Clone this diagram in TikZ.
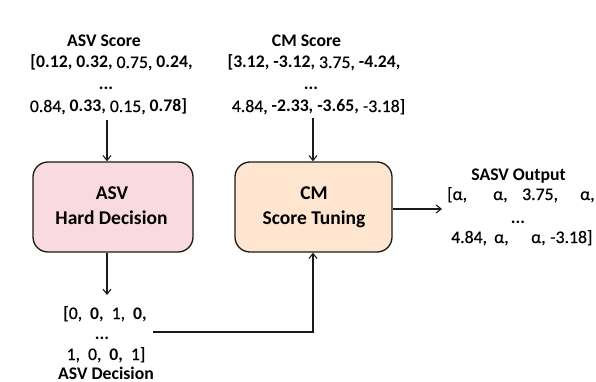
\documentclass[tikz,border=0pt]{standalone}
\usepackage{fontspec}
\setmainfont{Carlito}
\newfontfamily\medfont{Carlito}[BoldFont=Carlito, BoldFeatures={FakeBold=0.5}]
\newcommand{\md}[1]{{\medfont\bfseries #1}}
\usetikzlibrary{arrows.meta}
\definecolor{asvfill}{HTML}{F9DAE0}
\definecolor{cmfill}{HTML}{FDE5CF}
\definecolor{edge}{HTML}{1A1A1A}
\begin{document}
\begin{tikzpicture}[x=1pt,y=-1pt,
  txt/.style={inner sep=0pt, anchor=base, font=\fontsize{17.7}{20}\selectfont},
  boxtxt/.style={inner sep=0pt, anchor=base, font=\fontsize{19.5}{22}\selectfont\bfseries},
  tokw/.style={inner sep=0pt, anchor=base west, font=\fontsize{17.7}{20}\selectfont},
  box/.style={draw=edge, line width=1.3pt, rounded corners=15pt, inner sep=0pt},
  arr/.style={draw=edge, line width=1.1pt, -{Straight Barb[length=5pt,width=8pt,line width=1.1pt]}},
  conn/.style={draw=edge, line width=1.1pt}]
\useasboundingbox (0,0) rectangle (596,382);

% ASV score column
\node[txt] (asvtitle) at (104,47) {\textbf{ASV Score}};
\node[txt] (asvl1) at (111.5,68) {\textbf{[0.12, 0.32,} \md{0.75,} \textbf{0.24,}};
\node[txt] (asvl2) at (106,90) {\textbf{...}};
\node[txt] (asvl3) at (108.5,112) {\md{0.84,} \textbf{0.33,} \md{0.15,} \textbf{0.78]}};

% CM score column
\node[txt] (cmtitle) at (306.5,47) {\textbf{CM Score}};
\node[txt] (cml1) at (314,68) {\textbf{[3.12, -3.12,} \md{3.75,} \textbf{-4.24,}};
\node[txt] (cml2) at (311,90) {\textbf{...}};
\node[txt] (cml3) at (318.5,112) {\md{4.84,} \textbf{-2.33, -3.65,} \md{-3.18]}};

% boxes
\node[box, fill=asvfill, minimum width=160pt, minimum height=90pt] (asv) at (113,207) {};
\node[box, fill=cmfill, minimum width=157pt, minimum height=90pt] (cm) at (313.5,207) {};
\node[boxtxt] (asvb1) at (112,199) {ASV};
\node[boxtxt] (asvb2) at (111.5,224) {Hard Decision};
\node[boxtxt] (cmb1) at (314,199) {CM};
\node[boxtxt] (cmb2) at (314,224) {Score Tuning};

% decision column
\node[txt] (dec1) at (105,319) {\md{[0,}\ \ \textbf{0,}\ \ \md{1,}\ \ \textbf{0,}};
\node[txt] (dec2) at (102,339) {\textbf{...}};
\node[txt] (dec3) at (106,360) {\md{1,}\ \ \md{0,}\ \ \textbf{0,}\ \ \md{1]}};
\node[txt] (dec4) at (106,379) {\textbf{ASV Decision}};

% SASV output
\node[txt] (sasvt) at (518.5,180) {\textbf{SASV Output}};
\node[tokw] (s1) at (447,200) {\md{[α,}};
\node[tokw] (s2) at (493,200) {\md{α,}};
\node[tokw] (s3) at (522,200) {\md{3.75,}};
\node[tokw] (s4) at (580,200) {\md{α,}};
\node[txt] (sdots) at (518,223) {\textbf{...}};
\node[tokw] (s5) at (451,243) {\md{4.84,}};
\node[tokw] (s6) at (494,243) {\md{α,}};
\node[tokw] (s7) at (531,243) {\md{α,}};
\node[tokw] (s8) at (550,243) {\md{-3.18]}};

% connectors
\coordinate (asvin) at (107,120);
\coordinate (asvout) at (107,295);
\coordinate (cmin) at (313,118);
\coordinate (decl) at (153,332);
\coordinate (decc) at (313,332);
\coordinate (outend) at (442,209);
\draw[arr] (asvin) -- (asvin |- asv.north);
\draw[arr] (asvin |- asv.south) -- (asvout);
\draw[arr] (cmin) -- (cmin |- cm.north);
\draw[arr] (decl) -- (decc) -- (decc |- cm.south);
\draw[arr] (outend -| cm.east) -- (outend);
\end{tikzpicture}
\end{document}
